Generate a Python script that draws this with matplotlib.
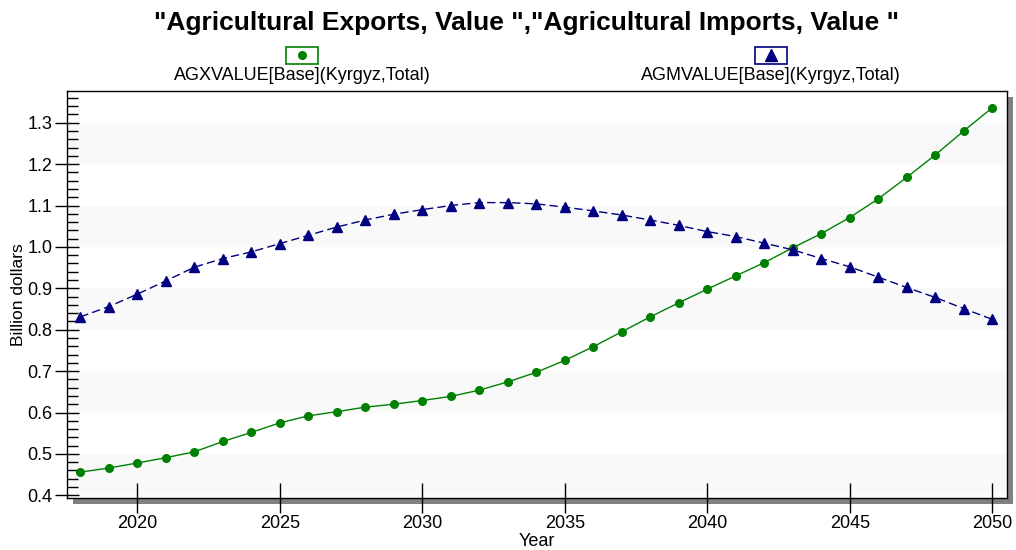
import matplotlib
matplotlib.use("Agg")
import matplotlib.pyplot as plt
from matplotlib.patches import Rectangle
from matplotlib.lines import Line2D
from matplotlib.ticker import MultipleLocator, FormatStrFormatter

plt.rcParams['font.family'] = ['Liberation Sans', 'DejaVu Sans']

years = list(range(2018, 2051))
exports = [0.456, 0.466, 0.478, 0.491, 0.505, 0.530, 0.552, 0.575, 0.592, 0.602,
           0.613, 0.620, 0.629, 0.639, 0.654, 0.674, 0.697, 0.726, 0.759, 0.795,
           0.831, 0.865, 0.898, 0.930, 0.962, 0.998, 1.032, 1.071, 1.116, 1.168,
           1.222, 1.280, 1.336]
imports = [0.831, 0.856, 0.886, 0.918, 0.951, 0.972, 0.988, 1.008, 1.028, 1.048,
           1.065, 1.079, 1.090, 1.100, 1.107, 1.107, 1.104, 1.096, 1.087, 1.077,
           1.065, 1.052, 1.037, 1.025, 1.009, 0.993, 0.972, 0.952, 0.927, 0.902,
           0.878, 0.851, 0.825]
title = '"Agricultural Exports, Value ","Agricultural Imports, Value "'
labels = ["AGXVALUE[Base](Kyrgyz,Total)", "AGMVALUE[Base](Kyrgyz,Total)"]
band_edges = [(0.4, 0.5), (0.6, 0.7), (0.8, 0.9), (1.0, 1.1), (1.2, 1.3)]

W, H = 1016, 550
fig = plt.figure(figsize=(W / 100, H / 100), dpi=100)
L, R, T, B = 67, 1007, 91, 498
ax = fig.add_axes([L / W, 1 - B / H, (R - L) / W, (B - T) / H])

# shadow
sh = 6
fig.patches.append(Rectangle(((L + sh) / W, 1 - (B + sh) / H), (R - L) / W, (B - T) / H,
                             transform=fig.transFigure, facecolor='#808080',
                             edgecolor='none', zorder=0))
ax.set_zorder(1)
ax.set_facecolor('white')

for lo, hi in band_edges:
    ax.axhspan(lo, hi, color='#f9f9f9', zorder=0, lw=0)

ax.plot(years, exports, color='#008000', lw=1.0, marker='o', markersize=5.5,
        markerfacecolor='#008000', markeredgecolor='#008000', zorder=3)
ax.plot(years, imports, color='#000080', lw=1.0, ls=(0, (6, 3)), marker='^', markersize=7,
        markerfacecolor='#000080', markeredgecolor='#000080', zorder=3)

ax.set_xlim(2017.53, 2050.52)
ax.set_ylim(0.3935, 1.3766)
ax.xaxis.set_major_locator(MultipleLocator(5))
ax.yaxis.set_major_locator(MultipleLocator(0.1))
ax.yaxis.set_minor_locator(MultipleLocator(0.02))
ax.yaxis.set_major_formatter(FormatStrFormatter('%.1f'))
ax.tick_params(axis='x', which='major', direction='inout', length=22, width=1,
               labelsize=13, pad=1, colors='#000000')
ax.tick_params(axis='y', which='major', direction='inout', length=17, width=1,
               labelsize=13, pad=2)
ax.tick_params(axis='y', which='minor', direction='in', length=8, width=1)
for s in ax.spines.values():
    s.set_linewidth(1)
    s.set_color('#000000')

ax.set_xlabel('Year', fontsize=13, labelpad=1)
ax.set_ylabel('Billion dollars', fontsize=12.5, labelpad=1)

fig.text(0.5 * (148 + 905) / W, 1 - 23 / H, title, ha='center', va='center',
         fontsize=19, fontweight='bold')

# legend
for cx, col, mk, ms, lab in [(302, '#008000', 'o', 5.5, labels[0]),
                             (771, '#000080', '^', 8, labels[1])]:
    bw, bh = 32, 17
    fig.patches.append(Rectangle(((cx - bw / 2) / W, 1 - (55 + bh / 2) / H), bw / W, bh / H,
                                 transform=fig.transFigure, facecolor='white',
                                 edgecolor=col, lw=1.2, zorder=2))
    fig.lines.append(Line2D([cx / W], [1 - 55 / H], transform=fig.transFigure,
                            marker=mk, markersize=ms, color=col, lw=0, zorder=3))
    fig.text(cx / W, 1 - 76 / H, lab, ha='center', va='center', fontsize=13)

fig.savefig('out.png', dpi=100)
